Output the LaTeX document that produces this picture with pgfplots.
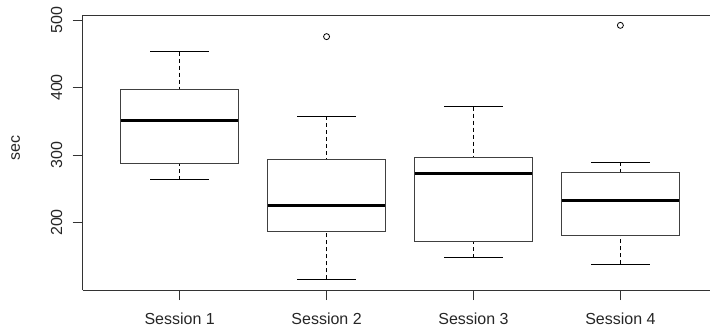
\documentclass[border=0pt]{standalone}
\usepackage{fontspec}
\setmainfont{Liberation Sans}
\usepackage{pgfplots}
\pgfplotsset{compat=1.18}
\usepgfplotslibrary{statistics}

\newcommand\rfont{\fontsize{16}{19}\selectfont}

\begin{document}
\begin{tikzpicture}
\begin{axis}[
  scale only axis, width=627.3pt, height=274.7pt,
  xmin=0.34, xmax=4.61, ymin=100, ymax=507,
  axis x line*=box, axis y line*=left,
  axis line style={black!80, line width=0.8pt, -},
  xtick={1,2,3,4},
  xticklabels={Session 1,Session 2,Session 3,Session 4},
  ytick={200,300,400,500},
  xtick pos=left, ytick pos=left,
  tick align=outside, major tick length=10pt,
  tick style={black!80, line width=0.8pt},
  /pgf/number format/assume math mode=true,
  tick label style={font=\rfont, text=black!85},
  yticklabel style={rotate=90, anchor=south},
  xticklabel shift=9pt,
  yticklabel shift=7pt,
  ylabel={sec},
  ylabel style={font=\rfont, text=black!85, at={(axis description cs:-0.1068,0.517)}, anchor=center},
  boxplot/draw direction=y,
  boxplot/box extend=0.8,
  boxplot/whisker extend=0.4,
  boxplot/every box/.style={draw=black!75, line width=0.9pt},
  boxplot/every median/.style={draw=black, line width=3pt},
  boxplot/draw/lower whisker/.code={
    \draw[black, line width=0.8pt, dash pattern=on 4pt off 3pt]
      (boxplot box cs:\pgfplotsboxplotvalue{lower whisker},0.5) --
      (boxplot box cs:\pgfplotsboxplotvalue{lower quartile},0.5);
    \draw[black, line width=0.8pt]
      (boxplot whisker cs:\pgfplotsboxplotvalue{lower whisker},0) --
      (boxplot whisker cs:\pgfplotsboxplotvalue{lower whisker},1);
  },
  boxplot/draw/upper whisker/.code={
    \draw[black, line width=0.8pt, dash pattern=on 4pt off 3pt]
      (boxplot box cs:\pgfplotsboxplotvalue{upper whisker},0.5) --
      (boxplot box cs:\pgfplotsboxplotvalue{upper quartile},0.5);
    \draw[black, line width=0.8pt]
      (boxplot whisker cs:\pgfplotsboxplotvalue{upper whisker},0) --
      (boxplot whisker cs:\pgfplotsboxplotvalue{upper whisker},1);
  },
]
% Session 1
\addplot[black, mark=o, mark size=3pt, boxplot prepared={draw position=1,
  lower whisker=263.6, lower quartile=288.0, median=350.4,
  upper quartile=396.9, upper whisker=453.0}] coordinates {};
% Session 2
\addplot[black, mark=o, mark size=3pt, mark options={line width=0.8pt}, boxplot prepared={draw position=2,
  lower whisker=115.9, lower quartile=186.5, median=225.5,
  upper quartile=293.6, upper whisker=357.8}]
  table[row sep=\\, y index=0] {475.4\\};
% Session 3
\addplot[black, mark=o, mark size=3pt, boxplot prepared={draw position=3,
  lower whisker=148.0, lower quartile=172.1, median=272.9,
  upper quartile=297.0, upper whisker=371.7}] coordinates {};
% Session 4
\addplot[black, mark=o, mark size=3pt, mark options={line width=0.8pt}, boxplot prepared={draw position=4,
  lower whisker=138.0, lower quartile=181.0, median=233.0,
  upper quartile=274.0, upper whisker=289.2}]
  table[row sep=\\, y index=0] {492.1\\};
\end{axis}
\pgfresetboundingbox
\path ([xshift=-82.7pt,yshift=-43pt]current axis.south west)
  rectangle ([yshift=15.3pt]current axis.north east);
\end{tikzpicture}
\end{document}
